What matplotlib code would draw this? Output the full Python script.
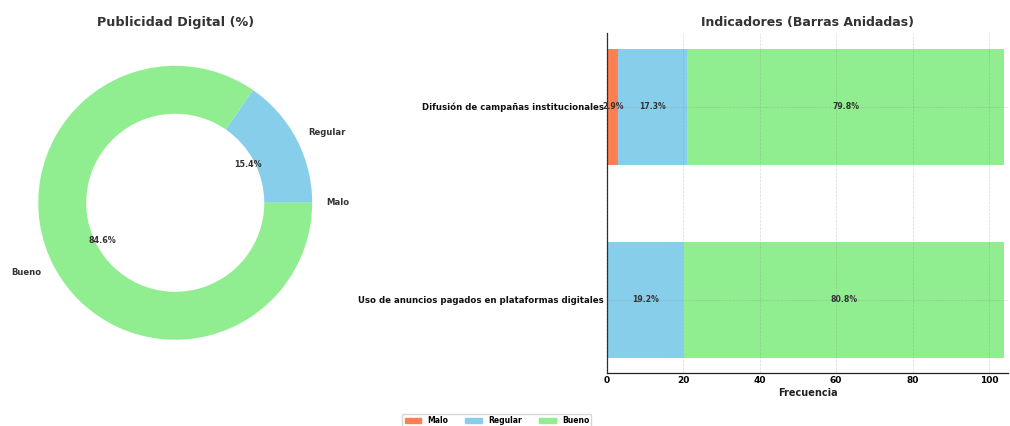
import matplotlib
matplotlib.use("Agg")
import matplotlib.pyplot as plt
from matplotlib.patches import Patch
import numpy as np

categories = ["Malo", "Regular", "Bueno"]
colors = ["#FF7F50", "#87CEEB", "#90EE90"]

pie_values = [0, 15.4, 84.6]

indicators = ["Difusión de campañas institucionales",
              "Uso de anuncios pagados en plataformas digitales"]
malo = [3, 0]
regular = [18, 20]
bueno = [83, 84]

plt.rcParams['font.family'] = 'DejaVu Sans'
fig = plt.figure(figsize=(10.1, 4.26), dpi=100)

# Pie (donut)
ax1 = fig.add_axes([0.004, 0.122, 0.339, 0.804])
wedges, texts, autotexts = ax1.pie(
    pie_values, labels=categories, colors=colors, startangle=0,
    autopct=lambda p: f"{p:.1f}%" if p > 0 else "",
    pctdistance=0.6, labeldistance=1.1,
    wedgeprops=dict(width=0.35, edgecolor="none"),
    textprops=dict(fontsize=6.1, fontweight="bold", color="#333333"))
for t in autotexts:
    t.set_fontsize(5.8)
ax1.set_xlim(-1.25, 1.25)
ax1.set_ylim(-1.25, 1.25)
ax1.set_aspect("equal")
ax1.set_title("Publicidad Digital (%)", fontsize=9.2, fontweight="bold",
              color="#333333", pad=4)

# Stacked bars
ax2 = fig.add_axes([0.601, 0.124, 0.397, 0.798])
y = np.arange(len(indicators))[::-1]
h = 0.6
series = [malo, regular, bueno]
totals = np.array(malo) + np.array(regular) + np.array(bueno)
left = np.zeros(len(indicators))
for name, vals, c in zip(categories, series, colors):
    vals = np.array(vals, dtype=float)
    ax2.barh(y, vals, left=left, height=h, color=c, label=name)
    for yi, v, l, tot in zip(y, vals, left, totals):
        if v > 0:
            ax2.text(l + v / 2, yi, f"{v / tot * 100:.1f}%", ha="center",
                     va="center", fontsize=5.6, fontweight="bold", color="#333333")
    left += vals

ax2.set_yticks(y)
ax2.set_yticklabels(indicators, fontsize=6.2, fontweight="bold", color="#111111")
ax2.set_xlim(0, 105)
ax2.set_xticks([0, 20, 40, 60, 80, 100])
ax2.tick_params(axis="x", labelsize=6.5, length=0, pad=2)
for lab in ax2.get_xticklabels():
    lab.set_fontweight("bold")
ax2.tick_params(axis="y", length=0, pad=2)
ax2.set_xlabel("Frecuencia", fontsize=7, fontweight="bold", color="#222222", labelpad=2)
ax2.set_title("Indicadores (Barras Anidadas)", fontsize=9, fontweight="bold",
              color="#333333", pad=5)
ax2.grid(True, color="gray", linestyle="--", linewidth=0.5, alpha=0.3)
ax2.set_axisbelow(False)
for s in ["top", "right"]:
    ax2.spines[s].set_visible(False)
ax2.spines["left"].set_linewidth(0.9)
ax2.spines["left"].set_color("#222222")
ax2.spines["bottom"].set_linewidth(0.9)
ax2.spines["bottom"].set_color("#222222")

handles = [Patch(color=c, label=n) for n, c in zip(categories, colors)]
fig.legend(handles=handles, loc="lower center", ncol=3,
           bbox_to_anchor=(0.492, -0.012), frameon=True,
           prop=dict(weight="bold", size=5.5), handlelength=2.2,
           columnspacing=2.2, borderpad=0.3, handleheight=0.6)

fig.savefig("out.png", dpi=100)
